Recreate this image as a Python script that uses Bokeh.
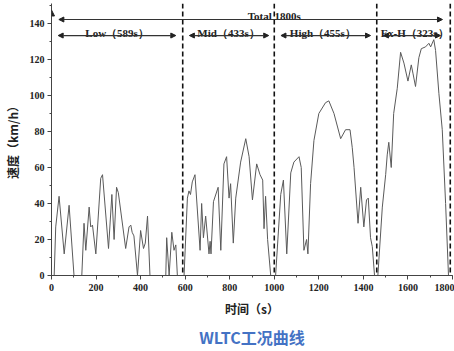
from bokeh.plotting import figure
from bokeh.models import (ColumnDataSource, Range1d, SingleIntervalTicker, Arrow,
                          NormalHead, Title, Span)
from bokeh.core.properties import value
from bokeh.embed import file_html
from bokeh.resources import INLINE

# ---- data ----
time_s = [0, 12, 19, 34, 57, 79, 101, 136, 146, 154, 169, 176, 184, 199, 221, 229, 256, 271, 281, 292,
          300, 333, 348, 356, 362, 370, 386, 400, 413, 421, 431, 442, 513, 517, 528, 540, 550, 558, 565,
          595, 610, 617, 624, 632, 644, 667, 674, 682, 692, 707, 712, 716, 727, 748, 760, 774, 786, 797,
          804, 816, 827, 849, 872, 887, 902, 921, 936, 948, 954, 961, 970, 984, 1006, 1029, 1041, 1056,
          1074, 1088, 1111, 1121, 1133, 1145, 1151, 1163, 1178, 1200, 1230, 1245, 1268, 1298, 1320, 1340,
          1350, 1358, 1376, 1388, 1402, 1414, 1422, 1432, 1440, 1450, 1465, 1485, 1500, 1507, 1514, 1525,
          1536, 1552, 1567, 1582, 1600, 1615, 1623, 1634, 1649, 1660, 1679, 1694, 1702, 1716, 1724, 1739,
          1754, 1769, 1782, 1800]
speed_kmh = [0, 0, 27, 44, 12, 39, 0, 0, 29, 14, 38, 27, 28, 12, 54, 56, 15, 45, 20, 49,
             46, 15, 27, 28, 24, 22, 0, 25, 15, 18, 33, 0, 0, 21, 0, 24, 14, 17, 0,
             0, 43, 47, 45, 52, 56, 14, 40, 21, 33, 12, 19, 12, 41, 49, 14, 62, 66, 43,
             51, 18, 43, 63, 76, 66, 42, 62, 56, 53, 26, 44, 20, 0, 0, 45, 53, 12,
             57, 63, 66, 60, 14, 20, 12, 51, 75, 90, 96, 97, 90, 76, 81, 81,
             71, 60, 29, 49, 27, 42, 43, 21, 16, 0, 0, 38, 56, 67, 74, 60,
             90, 104, 124, 118, 108, 117, 112, 105, 121, 126, 127, 129, 127, 131, 125, 101,
             81, 40, 0, 0]

phase_names = ["Low", "Mid", "High", "Ex-H"]
phase_secs = [589, 433, 455, 323]
phase_bounds = [0, 589, 1000, 1460, 1790]
total_secs = 1800

y_ticks_max = 140

# ---- figure ----
p = figure(width=454, height=351, output_backend="svg", toolbar_location=None,
           x_range=Range1d(0, 1800), y_range=Range1d(0, 151.1),
           min_border_left=51, min_border_right=2, min_border_top=3, min_border_bottom=76)
p.outline_line_color = None
p.grid.visible = False
p.background_fill_color = "white"

serif = "Liberation Serif"
cjk = "Noto Sans CJK SC"

p.xaxis.ticker = SingleIntervalTicker(interval=200, num_minor_ticks=2)
p.yaxis.ticker = SingleIntervalTicker(interval=20, num_minor_ticks=2)
for ax in (p.xaxis, p.yaxis):
    ax.axis_line_color = "#444444"
    ax.major_tick_line_color = "#444444"
    ax.minor_tick_line_color = "#444444"
    ax.major_tick_out = 4
    ax.major_tick_in = 0
    ax.minor_tick_out = 2
    ax.minor_tick_in = 0
    ax.major_label_text_font = serif
    ax.major_label_text_font_style = "bold"
    ax.major_label_text_font_size = "10px"
    ax.major_label_text_color = "#222222"
    ax.axis_label_text_font = cjk
    ax.axis_label_text_font_style = "bold"
    ax.axis_label_text_font_size = "12px"
    ax.axis_label_text_color = "#222222"
p.xaxis.major_label_standoff = 4
p.yaxis.major_label_standoff = 3
p.xaxis.axis_label = "时间（s）"
p.xaxis.axis_label_standoff = 6
p.yaxis.axis_label = "速度（km/h）"
p.yaxis.axis_label_standoff = 6
p.yaxis.axis_label_text_align = "right"

# y axis arrow
p.add_layout(Arrow(end=NormalHead(size=6, fill_color="#222222", line_color="#222222"),
                   x_start=0, y_start=y_ticks_max, x_end=0, y_end=147.5,
                   line_color="#444444", line_width=1))

# speed curve
src = ColumnDataSource(dict(t=time_s, v=speed_kmh))
p.line("t", "v", source=src, line_color="#5a5a5a", line_width=1)

# phase dashed lines
for b in phase_bounds[1:]:
    p.add_layout(Span(location=b, dimension="height", line_color="#111111",
                      line_width=1.6, line_dash="5 3"))

# phase arrows and labels
row_y = 133.3
total_y = 142.2
pad = 30
ends_right = [phase_bounds[1] - 31, phase_bounds[2] - 25, phase_bounds[3] - 28, 1746]
for i, name in enumerate(phase_names):
    x0 = phase_bounds[i] + pad
    x1 = ends_right[i]
    p.add_layout(Arrow(start=NormalHead(size=5, fill_color="#222222", line_color="#222222"),
                       end=NormalHead(size=5, fill_color="#222222", line_color="#222222"),
                       x_start=x0, y_start=row_y, x_end=x1, y_end=row_y,
                       line_color="#333333", line_width=1.2))
labels = [f"{n}（{s}s）" for n, s in zip(phase_names, phase_secs)]
label_x = [(phase_bounds[i] + phase_bounds[i + 1]) / 2 for i in range(4)]
label_x[2] -= 12
label_x[3] += 5
p.text(x=label_x, y=[row_y + 1.2] * 4, text=labels, text_align="center",
       text_baseline="alphabetic", text_font=value(serif), text_font_style="bold",
       text_font_size="11px", text_color="#222222")

p.add_layout(Arrow(start=NormalHead(size=5, fill_color="#222222", line_color="#222222"),
                   end=NormalHead(size=5, fill_color="#222222", line_color="#222222"),
                   x_start=33, y_start=total_y, x_end=1755, y_end=total_y,
                   line_color="#333333", line_width=1.2))
p.text(x=[1000], y=[144.4], text=[f"Total {total_secs}s"], text_align="center",
       text_baseline="alphabetic", text_font=value(serif), text_font_style="bold",
       text_font_size="11px", text_color="#222222")

title = Title(text="WLTC工况曲线", align="center", text_font=cjk, text_font_style="bold",
              text_font_size="16px", text_color="#4472c4", standoff=6)
p.add_layout(title, "below")

open("out.html", "w").write(file_html(p, INLINE))
